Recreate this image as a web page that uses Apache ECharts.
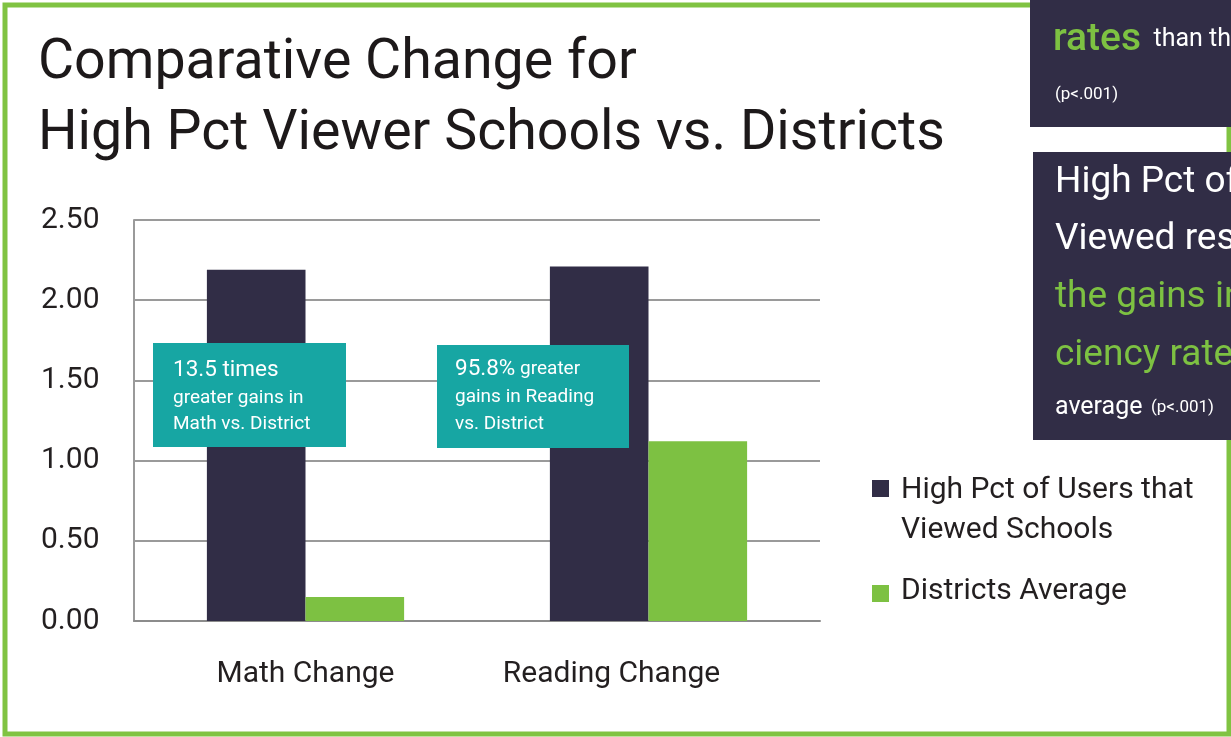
<!DOCTYPE html>
<html>
<head>
<meta charset="utf-8">
<title>Comparative Change for High Pct Viewer Schools vs. Districts</title>
<script src="https://cdn.jsdelivr.net/npm/echarts@6/dist/echarts.min.js"></script>
<style>
  html, body { margin: 0; padding: 0; background: #ffffff; }
  #chart { width: 1231px; height: 737px; }
</style>
</head>
<body>
<div id="chart"></div>
<script>
// Chart data
const categories = ['Math Change', 'Reading Change'];
const seriesNames = ['High Pct of Users that Viewed Schools', 'Districts Average'];
const highPctViewers = [2.19, 2.21];
const districtsAverage = [0.15, 1.12];
const yMin = 0;
const yMax = 2.5;
const yStep = 0.5;

const FONT = 'Roboto, "Liberation Sans", Arial, sans-serif';
const NAVY = '#312d46';
const GREEN = '#7dc142';
const TEAL = '#17a6a3';
const INK = '#231f20';

const chart = echarts.init(document.getElementById('chart'), null, { renderer: 'canvas' });

// one line of rich text placed inside a panel
function textLine(x, y, rich, parts, z) {
  return {
    type: 'text', x: x, y: y, z: z || 20,
    style: {
      text: parts,
      rich: rich,
      verticalAlign: 'middle',
      align: 'left',
      fontFamily: FONT
    }
  };
}

const calloutRich = {
  big: { fontSize: 22.5, fill: '#ffffff', fontFamily: FONT },
  small: { fontSize: 19, fill: '#ffffff', fontFamily: FONT }
};

const sideRich = {
  w: { fontSize: 37, fill: '#ffffff', fontFamily: FONT },
  g: { fontSize: 37, fill: GREEN, fontFamily: FONT },
  gb: { fontSize: 39, fill: GREEN, fontWeight: 500, fontFamily: FONT },
  ws: { fontSize: 25, fill: '#ffffff', fontFamily: FONT },
  wxs: { fontSize: 17, fill: '#ffffff', fontFamily: FONT }
};

const legendRich = {
  gap: { fontFamily: FONT, fontSize: 30, color: INK, lineHeight: 44 },
  t: { fontFamily: FONT, fontSize: 30, color: INK, lineHeight: 40, padding: [0, 0, 0, 7] },
  t2: { fontFamily: FONT, fontSize: 30, color: INK, lineHeight: 40, padding: [0, 0, 4, 7] }
};

const xLabelRich = {
  shifted: { fontFamily: FONT, fontSize: 30, color: INK, padding: [0, 74, 0, 0] }
};

const option = {
  backgroundColor: '#ffffff',
  animation: false,
  textStyle: { fontFamily: FONT },
  title: {
    text: 'Comparative Change for\nHigh Pct Viewer Schools vs. Districts',
    left: 33,
    top: 24,
    textStyle: {
      fontFamily: FONT,
      fontSize: 55.5,
      fontWeight: 'normal',
      color: '#1d191a',
      lineHeight: 71
    }
  },
  legend: [
    {
      data: [seriesNames[0]],
      orient: 'vertical',
      left: 872,
      top: 426.5,
      padding: 0,
      itemWidth: 17,
      itemHeight: 17,
      icon: 'rect',
      selectedMode: false,
      formatter: function () {
        return '{gap| }\n{t|High Pct of Users that}\n{t|Viewed Schools}';
      },
      textStyle: { fontFamily: FONT, fontSize: 30, color: INK, lineHeight: 40, rich: legendRich }
    },
    {
      data: [seriesNames[1]],
      orient: 'vertical',
      left: 872,
      top: 573.5,
      padding: 0,
      itemWidth: 17,
      itemHeight: 17,
      icon: 'rect',
      selectedMode: false,
      formatter: function (name) { return '{t2|' + name + '}'; },
      textStyle: { fontFamily: FONT, fontSize: 30, color: INK, lineHeight: 40, rich: legendRich }
    }
  ],
  grid: {
    left: 134,
    right: 411,
    top: 220,
    bottom: 116,
    containLabel: false
  },
  xAxis: {
    type: 'category',
    data: categories,
    axisTick: { show: false },
    axisLine: { show: true, lineStyle: { color: '#8c8c8c', width: 2 } },
    axisLabel: {
      interval: 0,
      hideOverlap: false,
      margin: 38,
      fontFamily: FONT,
      fontSize: 30,
      color: INK,
      rich: xLabelRich,
      formatter: function (v, i) { return i === 1 ? '{shifted|' + v + '}' : v; }
    }
  },
  yAxis: {
    type: 'value',
    min: yMin,
    max: yMax,
    interval: yStep,
    axisLine: { show: true, lineStyle: { color: '#9a9a9a', width: 2 } },
    axisTick: { show: false },
    splitLine: { show: true, lineStyle: { color: '#9a9a9a', width: 2 } },
    axisLabel: {
      margin: 93,
      align: 'left',
      fontFamily: FONT,
      fontSize: 30,
      color: INK,
      formatter: function (v) { return v.toFixed(2); }
    }
  },
  series: [
    {
      name: seriesNames[0],
      type: 'bar',
      data: highPctViewers,
      barGap: '0%',
      barCategoryGap: '42.5%',
      itemStyle: { color: NAVY },
      z: 2
    },
    {
      name: seriesNames[1],
      type: 'bar',
      data: districtsAverage,
      barGap: '0%',
      barCategoryGap: '42.5%',
      itemStyle: { color: GREEN },
      z: 2
    }
  ],
  graphic: [
    // outer frame
    {
      type: 'rect', z: 0, silent: true,
      shape: { x: 5, y: 5, width: 1224, height: 729 },
      style: { fill: 'none', stroke: '#80c342', lineWidth: 5 }
    },
    // callout: math
    {
      type: 'rect', z: 10,
      shape: { x: 153, y: 343, width: 193, height: 104 },
      style: { fill: TEAL }
    },
    textLine(173, 370, calloutRich, '{big|13.5 times}'),
    textLine(173, 398, calloutRich, '{small|greater gains in}'),
    textLine(173, 424, calloutRich, '{small|Math vs. District}'),
    // callout: reading
    {
      type: 'rect', z: 10,
      shape: { x: 437, y: 345, width: 192, height: 103 },
      style: { fill: TEAL }
    },
    textLine(455, 369, calloutRich, '{big|95.8%}{small| greater}'),
    textLine(455, 397, calloutRich, '{small|gains in Reading}'),
    textLine(455, 424, calloutRich, '{small|vs. District}'),
    // side panel A
    {
      type: 'rect', z: 10,
      shape: { x: 1030, y: -10, width: 230, height: 137 },
      style: { fill: NAVY }
    },
    textLine(1053, 40, sideRich, '{gb|rates}{ws|  than the}'),
    textLine(1055, 95, sideRich, '{wxs|(p<.001)}'),
    // side panel B
    {
      type: 'rect', z: 10,
      shape: { x: 1033, y: 152, width: 230, height: 288 },
      style: { fill: NAVY }
    },
    textLine(1055, 183, sideRich, '{w|High Pct of Users that}'),
    textLine(1055, 240, sideRich, '{w|Viewed resources saw}'),
    textLine(1055, 298, sideRich, '{g|the gains in profi-}'),
    textLine(1055, 356, sideRich, '{g|ciency rates over the}'),
    textLine(1055, 408, sideRich, '{ws|average}{wxs|  (p<.001)}')
  ]
};

chart.setOption(option);
</script>
</body>
</html>
